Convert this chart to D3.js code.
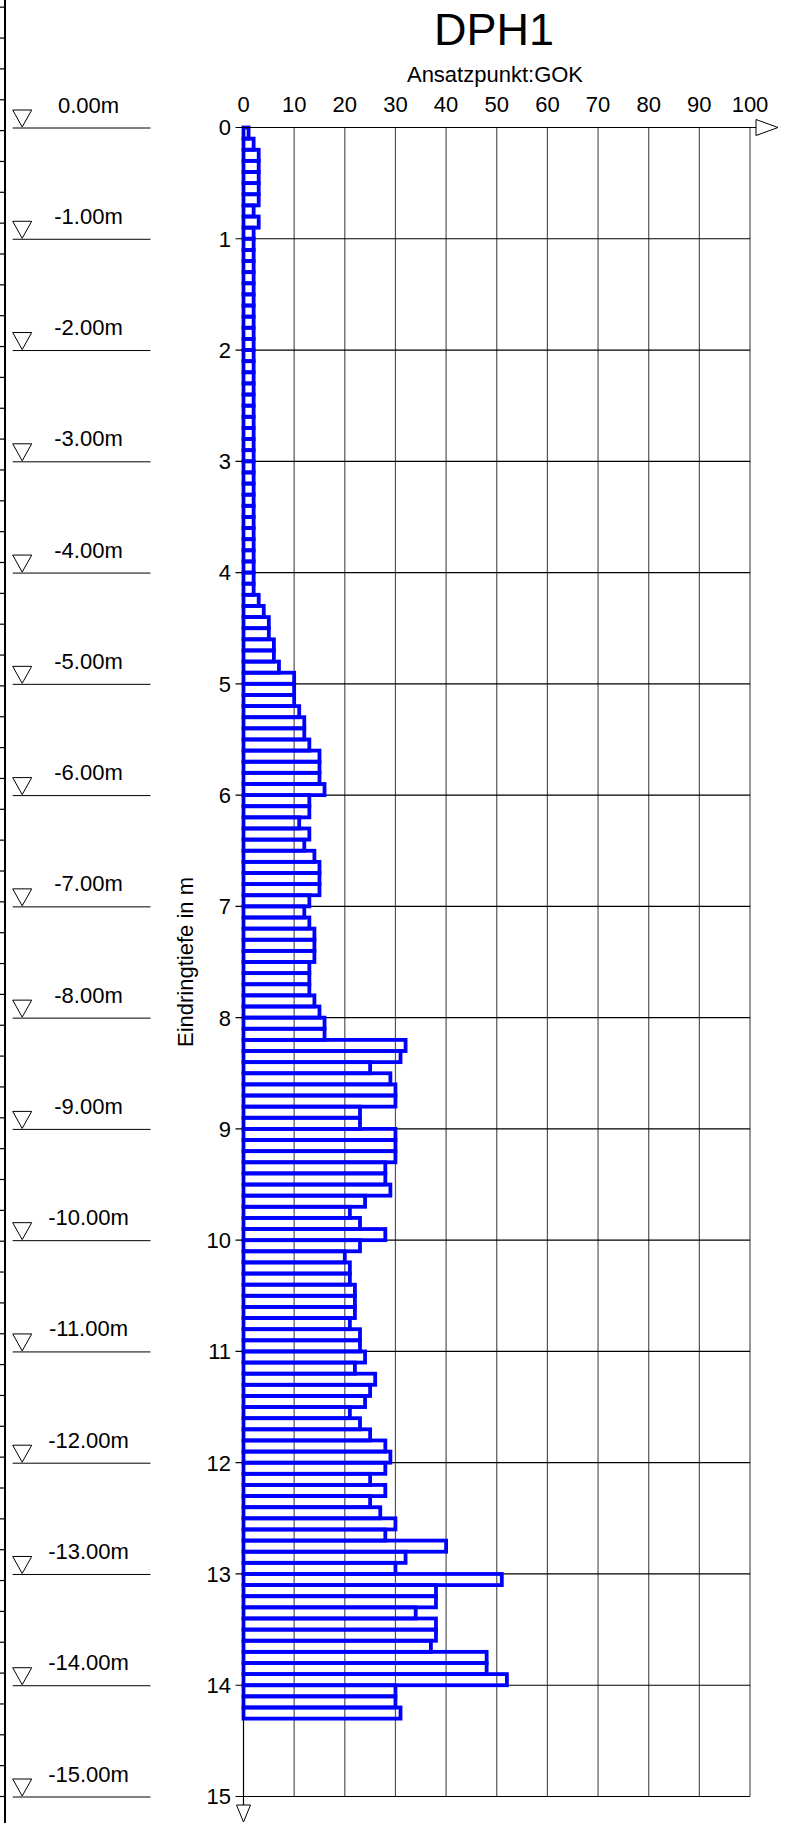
<!DOCTYPE html>
<html>
<head>
<meta charset="utf-8">
<script src="https://cdn.jsdelivr.net/npm/d3@7"></script>
<style>
  body { margin: 0; background: #fff; }
  svg { display: block; font-family: "Liberation Sans", Arial, sans-serif; }
</style>
</head>
<body>
<div id="chart"></div>
<script>
// blows per 10 cm, depth steps of 0.1 m starting at 0.0 m
const blows = [
  1, 2, 3, 3, 3, 3, 3, 2, 3, 2,
  2, 2, 2, 2, 2, 2, 2, 2, 2, 2,
  2, 2, 2, 2, 2, 2, 2, 2, 2, 2,
  2, 2, 2, 2, 2, 2, 2, 2, 2, 2,
  2, 2, 3, 4, 5, 5, 6, 6, 7, 10,
  10, 10, 11, 12, 12, 13, 15, 15, 15, 16,
  13, 13, 11, 13, 12, 14, 15, 15, 15, 13,
  12, 13, 14, 14, 14, 13, 13, 13, 14, 15,
  16, 16, 32, 31, 25, 29, 30, 30, 23, 23,
  30, 30, 30, 28, 28, 29, 24, 21, 23, 28,
  23, 20, 21, 21, 22, 22, 22, 21, 23, 23,
  24, 22, 26, 25, 24, 21, 23, 25, 28, 29,
  28, 25, 28, 25, 27, 30, 28, 40, 32, 30,
  51, 38, 38, 34, 38, 38, 37, 48, 48, 52,
  30, 30, 31
];
const step = 0.1;
const xTicks = [0, 10, 20, 30, 40, 50, 60, 70, 80, 90, 100];
const depthTicks = d3.range(0, 16);
const levels = d3.range(0, 16); // water-level marks 0.00m .. -15.00m
const title = "DPH1";
const subtitle = "Ansatzpunkt:GOK";
const yLabel = "Eindringtiefe in m";

const width = 785, height = 1823;
const blue = "#0000ff";

const svg = d3.select("#chart").append("svg")
  .attr("width", width)
  .attr("height", height);

const x = d3.scaleLinear().domain([0, 100]).range([243.5, 750]);
const y = d3.scaleLinear().domain([0, 15]).range([127.5, 1796.5]);

// cut-off axis at the very left edge
const side = d3.scaleLinear().domain([0, 59]).range([6.7, 6.7 + 59 * 30.85]);
svg.append("g")
  .attr("transform", "translate(5,0)")
  .call(d3.axisLeft(side).tickValues(d3.range(60)).tickSize(5).tickSizeOuter(0).tickFormat(""))
  .call(g => g.select(".domain").remove())
  .selectAll("line").attr("stroke", "#000").attr("stroke-width", 1.2);
svg.append("line")
  .attr("x1", 5).attr("x2", 5).attr("y1", 0).attr("y2", height)
  .attr("stroke", "#000").attr("stroke-width", 2);

// water-level marks
const lv = svg.append("g").selectAll("g").data(levels).enter().append("g")
  .attr("transform", d => "translate(0," + y(d) + ")");
lv.append("line")
  .attr("x1", 12.7).attr("x2", 150.5).attr("y1", 0.5).attr("y2", 0.5)
  .attr("stroke", "#000").attr("stroke-width", 1);
lv.append("path")
  .attr("d", "M12.7,-17.5L31.7,-17.5L22.2,-0.5Z")
  .attr("fill", "none").attr("stroke", "#000").attr("stroke-width", 1);
lv.append("text")
  .attr("x", 88.5).attr("y", -15)
  .attr("text-anchor", "middle")
  .style("font-size", "22px")
  .text(d => (-d).toFixed(2) + "m");

// titles
svg.append("text")
  .attr("x", 494).attr("y", 45)
  .attr("text-anchor", "middle")
  .style("font-size", "45px")
  .text(title);
svg.append("text")
  .attr("x", 495).attr("y", 81.5)
  .attr("text-anchor", "middle")
  .style("font-size", "22px")
  .text(subtitle);

// grid
svg.append("g").selectAll("line").data(xTicks.slice(1)).enter().append("line")
  .attr("x1", d => x(d)).attr("x2", d => x(d))
  .attr("y1", y(0)).attr("y2", y(15))
  .attr("stroke", "#555").attr("stroke-width", 1.2);
svg.append("g").selectAll("line").data(depthTicks.slice(1)).enter().append("line")
  .attr("x1", x(0) - 8).attr("x2", x(100))
  .attr("y1", d => y(d)).attr("y2", d => y(d))
  .attr("stroke", "#000").attr("stroke-width", 1.2);

// bars
svg.append("g").selectAll("rect").data(blows).enter().append("rect")
  .attr("x", x(0))
  .attr("y", (d, i) => y(i * step))
  .attr("width", d => x(d) - x(0))
  .attr("height", (d, i) => y((i + 1) * step) - y(i * step))
  .attr("fill", "none")
  .attr("stroke", blue)
  .attr("stroke-width", 3.8);

// axes
svg.append("line")
  .attr("x1", x(0) - 8).attr("x2", 756).attr("y1", y(0)).attr("y2", y(0))
  .attr("stroke", "#000").attr("stroke-width", 1.2);
svg.append("path")
  .attr("d", `M756,${y(0) - 8}L778,${y(0)}L756,${y(0) + 8}Z`)
  .attr("fill", "#fff").attr("stroke", "#000").attr("stroke-width", 1);
svg.append("line")
  .attr("x1", x(0)).attr("x2", x(0)).attr("y1", y(0)).attr("y2", 1805)
  .attr("stroke", "#000").attr("stroke-width", 1.2);
svg.append("path")
  .attr("d", `M${x(0) - 7},1805L${x(0) + 7},1805L${x(0)},1822Z`)
  .attr("fill", "#fff").attr("stroke", "#000").attr("stroke-width", 1);

svg.append("g").selectAll("text").data(xTicks).enter().append("text")
  .attr("x", d => x(d)).attr("y", 111.5)
  .attr("text-anchor", "middle")
  .style("font-size", "22px")
  .text(d => d);

svg.append("g").selectAll("text").data(depthTicks).enter().append("text")
  .attr("x", 231).attr("y", d => y(d))
  .attr("dy", "0.36em")
  .attr("text-anchor", "end")
  .style("font-size", "22px")
  .text(d => d);

svg.append("text")
  .attr("transform", "translate(193.3," + y(7.5) + ") rotate(-90)")
  .attr("text-anchor", "middle")
  .style("font-size", "22px")
  .text(yLabel);
</script>
</body>
</html>
